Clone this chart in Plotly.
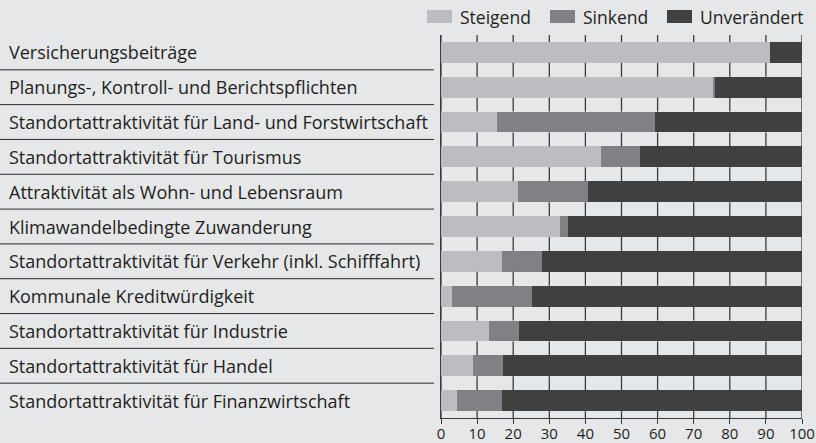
import plotly.graph_objects as go

# categories, top to bottom
kategorien = [
    "Versicherungsbeiträge",
    "Planungs-, Kontroll- und Berichtspflichten",
    "Standortattraktivität für Land- und Forstwirtschaft",
    "Standortattraktivität für Tourismus",
    "Attraktivität als Wohn- und Lebensraum",
    "Klimawandelbedingte Zuwanderung",
    "Standortattraktivität für Verkehr (inkl. Schifffahrt)",
    "Kommunale Kreditwürdigkeit",
    "Standortattraktivität für Industrie",
    "Standortattraktivität für Handel",
    "Standortattraktivität für Finanzwirtschaft",
]

steigend = [91.2, 75.5, 15.6, 44.2, 21.2, 33.1, 17.0, 3.1, 13.4, 9.0, 4.5]
sinkend = [0.0, 0.5, 43.6, 10.9, 19.4, 2.0, 11.1, 22.0, 8.1, 8.3, 12.5]
unveraendert = [8.8, 24.0, 40.8, 44.9, 59.4, 64.9, 71.9, 74.9, 78.5, 82.7, 83.0]

serien = ["Steigend", "Sinkend", "Unverändert"]
farben = ["#bcbdc0", "#808184", "#404040"]

x_ticks = list(range(0, 101, 10))

FONT = "Open Sans"
TEXT = "#231f20"
BG = "#e6e7e9"
LINE = "#3a3a3a"

n = len(kategorien)
pos = list(range(n))  # row index per category
y_lo, y_hi = -0.5, n - 0.5
BAR_W = 0.6
half = BAR_W / 2

fig = go.Figure()

# grid lines only in the gaps between bars (scatter is drawn above bars in plotly)
gap_segs = [(y_lo, -half)] + [(p + half, p + 1 - half) for p in pos[:-1]] + [(pos[-1] + half, y_hi)]
gx, gy = [], []
for t in x_ticks:
    for a, b in gap_segs:
        gx += [t, t, None]
        gy += [a, b, None]

for name, vals, col in zip(serien, [steigend, sinkend, unveraendert], farben):
    fig.add_trace(go.Bar(y=pos, x=vals, name=name, orientation="h",
                         marker=dict(color=col, line=dict(width=0)),
                         width=BAR_W, showlegend=False,
                         customdata=kategorien,
                         hovertemplate="%{customdata}: %{x}<extra>" + name + "</extra>"))

fig.add_trace(go.Scatter(x=gx, y=gy, mode="lines", hoverinfo="skip",
                         line=dict(color=LINE, width=1.3), showlegend=False))

# category labels, left aligned, plus separator lines
plot_w = 816 - 441 - 14
for p, k in zip(pos, kategorien):
    fig.add_annotation(x=(7 - 441) / plot_w, y=p, xref="paper", yref="y",
                       text=k, showarrow=False, xanchor="left",
                       font=dict(family=FONT, size=18, color=TEXT))
for p in pos[:-1]:
    fig.add_shape(type="line", xref="paper", yref="y",
                  x0=(0 - 441) / plot_w, x1=(434 - 441) / plot_w,
                  y0=p + 0.5, y1=p + 0.5,
                  line=dict(color="#2b2b2b", width=1))

# legend drawn by hand (wide swatches)
leg_x = [427, 550, 667]
for name, col, lx in zip(serien, farben, leg_x):
    fig.add_shape(type="rect", xref="paper", yref="paper",
                  x0=(lx - 441) / plot_w, x1=(lx + 25 - 441) / plot_w,
                  y0=(418 - 10) / 383, y1=(418 - 23) / 383,
                  fillcolor=col, line=dict(width=0))
    fig.add_annotation(x=(lx + 31 - 441) / plot_w, y=(418 - 17) / 383,
                       xref="paper", yref="paper", text=name, showarrow=False,
                       xanchor="left", yanchor="middle",
                       font=dict(family=FONT, size=17.5, color=TEXT))

fig.update_layout(
    barmode="stack",
    width=816, height=443,
    margin=dict(l=441, r=14, t=35, b=25),
    paper_bgcolor=BG, plot_bgcolor=BG,
    xaxis=dict(range=[0, 100], tickvals=x_ticks, showgrid=False,
               showline=True, linecolor=LINE, linewidth=1,
               ticks="outside", ticklen=5, tickcolor=LINE, tickwidth=1,
               tickfont=dict(family=FONT, size=15, color=TEXT),
               ticklabelstandoff=-3,
               zeroline=False, automargin=False),
    yaxis=dict(range=[y_hi, y_lo], showticklabels=False, ticks="",
               showline=True, linecolor=LINE, linewidth=1,
               showgrid=False, zeroline=False, automargin=False),
)

fig.write_html("out.html", config={"displayModeBar": False},
               post_script="document.body.style.margin='0';document.body.style.overflow='hidden';")
